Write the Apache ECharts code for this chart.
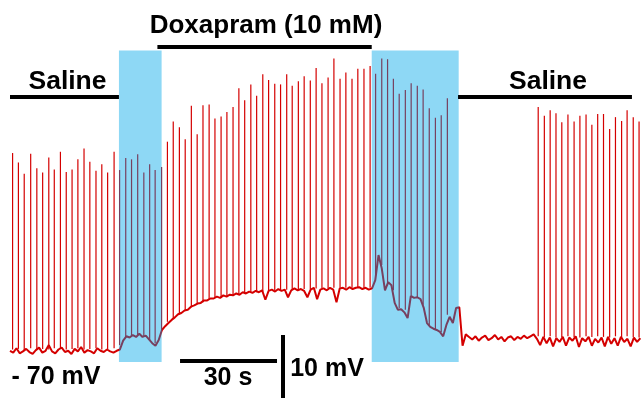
<!DOCTYPE html>
<html>
<head>
<meta charset="utf-8">
<script src="https://cdn.jsdelivr.net/npm/echarts@6/dist/echarts.min.js"></script>
<style>
    html, body { margin: 0; padding: 0; background: #fff; }
    #trace { width: 641px; height: 398px; }
</style>
</head>
<body>
<div id="trace"></div>
<script>
// resting membrane potential between spikes, one reading per second (mV)
var baseStep = 1;
var baseVolts = [
    -69.8, -70.1, -69.4, -70.2, -69.9, -69.5, -70.0, -70.3, -69.7, -69.3,
    -70.1, -69.8, -68.9, -69.9, -70.2, -69.6, -69.3, -70.0, -69.8, -70.3,
    -69.5, -69.9, -69.2, -70.1, -69.7, -69.9, -70.2, -69.4, -69.8, -70.0,
    -69.6, -69.9, -70.1, -69.8,
    -69.6, -68.2, -67.5, -67.7, -67.3, -67.6, -67.1, -67.6, -67.4, -68.0,
    -68.6, -69.0, -68.1,
    -66.5, -65.9, -65.4, -64.9, -64.5, -64.0, -63.8, -63.4, -63.3, -62.8,
    -62.6, -62.3, -62.2, -61.8, -61.8, -61.5, -61.5, -61.2, -61.4, -61.0,
    -61.2, -60.9, -61.0, -60.7, -60.9, -60.5, -60.7, -60.4, -60.6, -60.3,
    -60.5, -60.2, -61.7, -60.3, -60.1, -60.4, -60.0, -60.3, -60.1, -61.3,
    -60.2, -59.9, -60.2, -60.0, -60.3, -61.3, -60.1, -59.8, -61.6, -60.1,
    -59.9, -60.2, -59.8, -60.1, -62.1, -59.9, -59.8, -60.1, -59.7, -60.0,
    -59.8, -59.7, -60.0, -59.8, -60.1, -59.9,
    -58.6, -54.6, -56.7, -60.2, -58.9, -59.4, -62.2, -63.3, -63.2, -63.7,
    -64.6, -61.1, -61.4, -61.3, -61.6, -63.0, -65.4, -66.0, -66.3, -66.5,
    -66.8, -67.5, -65.7, -64.4, -65.4, -63.0, -62.9, -69.0, -67.2,
    -67.6, -68.0, -67.5, -68.2, -67.7, -67.4, -68.1, -67.8, -67.3, -68.0,
    -67.6, -68.3, -67.7, -67.5, -68.1, -67.6, -67.9, -67.4, -67.8, -67.5,
    -67.2, -67.9, -68.9, -67.6, -68.6, -67.7, -69.1, -67.8, -68.4, -67.6,
    -69.0, -67.7, -68.2, -67.5, -69.2, -67.8, -68.3, -67.6, -69.0, -67.9,
    -68.5, -67.7, -69.1, -67.6, -68.7, -67.8, -69.0, -67.6, -68.4, -67.9,
    -69.1, -67.7, -68.4, -67.8
];

// action potentials: time (s), peak (mV), foot (mV)
var spikeTimes = [
    0.8, 2.6, 4.4, 6.4, 8.3, 10.1, 12.0, 13.7, 15.6, 17.4,
    19.2, 21.0, 22.9, 24.7, 26.6, 28.4, 30.2, 32.2,
    33.9, 35.8, 37.6, 39.5, 41.4, 43.2, 44.9, 46.9,
    48.7, 50.5, 52.4, 54.2, 56.1, 57.9, 59.7, 61.6, 63.4, 65.3,
    67.1, 69.0, 70.8, 72.6, 74.5, 76.3, 78.2, 80.0, 81.9, 83.7,
    85.6, 87.3, 89.2, 91.0, 92.9, 94.7, 96.5, 98.4, 100.2, 102.1,
    103.9, 105.8, 107.6, 109.5, 111.4,
    113.1, 115.0, 116.8, 118.6, 120.4, 122.3, 124.1, 126.0, 127.8, 129.7,
    131.6, 133.4, 135.3,
    163.4, 165.3, 167.1, 168.9, 170.7, 172.6, 174.5, 176.3, 178.2, 180.0,
    181.8, 183.6, 185.5, 187.3, 189.2, 190.9, 192.8, 194.6
];
var spikePeaks = [
    -38.4, -39.9, -41.7, -38.5, -40.8, -41.5, -39.1, -41.0, -38.2, -41.4,
    -41.0, -39.4, -37.7, -39.8, -41.2, -40.2, -41.5, -38.2,
    -41.1, -39.2, -39.4, -38.6, -41.5, -40.2, -41.1, -40.6,
    -36.6, -33.4, -34.3, -36.2, -30.9, -35.4, -30.8, -30.7, -32.9, -32.6,
    -31.9, -31.1, -28.1, -30.0, -27.5, -29.3, -25.9, -26.8, -27.4, -27.5,
    -25.9, -27.7, -27.0, -26.2, -26.9, -24.9, -27.3, -26.4, -23.4, -26.6,
    -25.6, -26.6, -25.0, -25.0, -24.6,
    -25.8, -23.4, -23.5, -26.6, -29.0, -28.4, -27.3, -27.7, -28.3, -31.3,
    -32.8, -32.4, -29.7,
    -31.1, -32.5, -31.6, -32.1, -33.5, -32.3, -33.4, -32.5, -32.3, -33.9,
    -32.2, -32.2, -34.6, -32.7, -33.3, -31.6, -32.7, -33.4
];
var spikeFeet = [
    -69.6, -69.5, -69.7, -69.4, -69.6, -69.5, -69.6, -69.4, -69.5, -69.6,
    -69.5, -69.4, -69.6, -69.5, -69.4, -69.6, -69.5, -69.4,
    -68.9, -67.6, -67.5, -67.3, -67.5, -68.1, -68.6, -66.5,
    -65.2, -64.6, -64.0, -63.5, -62.9, -62.4, -62.1, -61.7, -61.4, -61.3,
    -61.1, -61.0, -60.8, -60.8, -60.6, -60.5, -60.4, -60.3, -60.2, -60.2,
    -60.1, -60.1, -60.0, -60.0, -60.0, -59.9, -59.9, -59.9, -59.8, -59.8,
    -59.8, -59.8, -59.8, -59.8, -59.8,
    -57.8, -56.2, -59.4, -60.2, -63.0, -63.3, -61.0, -61.3, -62.5, -65.7,
    -66.5, -66.8, -64.1,
    -67.5, -67.6, -67.5, -67.7, -67.6, -67.5, -67.6, -67.7, -67.5, -67.6,
    -67.5, -67.6, -67.7, -67.5, -67.6, -67.5, -67.6, -67.7
];

// blue shading = bath exchange periods (s)
var bathStarts = [33.7, 111.9];
var bathEnds = [46.9, 138.8];

// perfusion bars: start (s), end (s), level (mV)
var drugNames = ['Saline', 'Doxapram (10 mM)', 'Saline'];
var drugStarts = [0, 45.6, 138.6];
var drugEnds = [33.7, 111.9, 192.4];
var drugLevels = [-29.5, -21.5, -29.5];

var RED = '#d40000';
var PURPLE = '#77405f';
var BATH = '#8ed8f5';

function inBath(t) {
    for (var i = 0; i < bathStarts.length; i++) {
        if (t >= bathStarts[i] && t <= bathEnds[i]) return true;
    }
    return false;
}

var baseData = baseVolts.map(function (v, i) { return [i * baseStep, v]; });
var spikeData = spikeTimes.map(function (t, i) { return [t, spikePeaks[i], spikeFeet[i]]; });

var pieces = [];
var last = -10;
bathStarts.forEach(function (s, i) {
    pieces.push({gte: last, lt: s, color: RED});
    pieces.push({gte: s, lt: bathEnds[i], color: PURPLE});
    last = bathEnds[i];
});
pieces.push({gte: last, color: RED});

var markBars = drugNames.map(function (n, i) {
    return [{coord: [drugStarts[i], drugLevels[i]]}, {coord: [drugEnds[i], drugLevels[i]]}];
});
// scale bars: 30 s and 10 mV
markBars.push([{coord: [52.6, -71.35]}, {coord: [82.6, -71.35]}]);
markBars.push([{coord: [84.4, -67.3]}, {coord: [84.4, -77.3]}]);

var font = 'bold 25px "Liberation Sans", Arial, sans-serif';
function label(text, x, y, sx) {
    return {
        type: 'text', x: x, y: y, scaleX: sx || 1, silent: true,
        style: {text: text, font: font, fill: '#000', textAlign: 'center', textVerticalAlign: 'middle'}
    };
}

var chart = echarts.init(document.getElementById('trace'));
chart.setOption({
    animation: false,
    backgroundColor: '#fff',
    grid: {left: 10, right: 0, top: 0, bottom: 0},
    xAxis: {type: 'value', min: 0, max: 195.2, show: false},
    yAxis: {type: 'value', min: -77.3, max: -14.1, show: false},
    visualMap: {
        show: false,
        type: 'piecewise',
        seriesIndex: 1,
        dimension: 0,
        pieces: pieces
    },
    series: [
        {
            type: 'line',
            data: [],
            z: 1,
            silent: true,
            markArea: {
                silent: true,
                itemStyle: {color: BATH, opacity: 1},
                data: bathStarts.map(function (s, i) {
                    return [{coord: [s, -22.1]}, {coord: [bathEnds[i], -71.6]}];
                })
            }
        },
        {
            type: 'line',
            data: baseData,
            z: 3,
            showSymbol: false,
            silent: true,
            lineStyle: {width: 2}
        },
        {
            type: 'custom',
            z: 4,
            silent: true,
            data: spikeData,
            encode: {x: 0, y: [1, 2]},
            renderItem: function (params, api) {
                var t = api.value(0);
                var top = api.coord([t, api.value(1)]);
                var foot = api.coord([t, api.value(2)]);
                return {
                    type: 'line',
                    shape: {x1: top[0], y1: top[1], x2: foot[0], y2: foot[1]},
                    style: {stroke: inBath(t) ? PURPLE : RED, lineWidth: 1.2}
                };
            }
        },
        {
            type: 'line',
            data: [],
            z: 5,
            silent: true,
            markLine: {
                silent: true,
                symbol: 'none',
                label: {show: false},
                lineStyle: {color: '#000', width: 4, type: 'solid'},
                data: markBars
            }
        }
    ],
    graphic: [
        label('Saline', 67.5, 82, 1.06),
        label('Doxapram (10 mM)', 266, 26, 1.04),
        label('Saline', 548, 82, 1.06),
        label('- 70 mV', 56, 377),
        label('30 s', 228, 378),
        label('10 mV', 327, 369)
    ]
});
</script>
</body>
</html>
